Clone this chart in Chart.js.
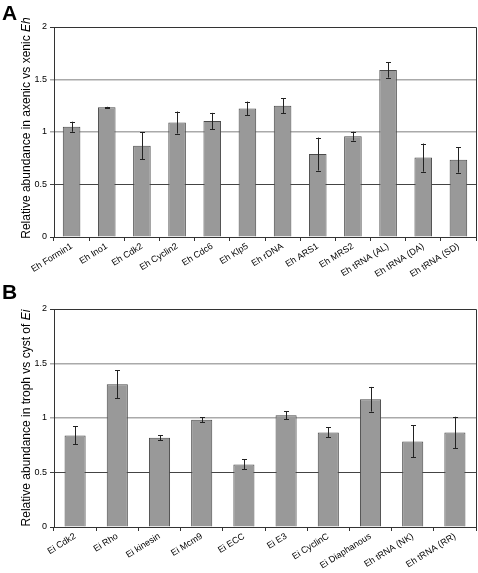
<!DOCTYPE html>
<html><head><meta charset="utf-8">
<script src="https://cdn.jsdelivr.net/npm/chart.js@4/dist/chart.umd.min.js"></script>
<style>
html,body{margin:0;padding:0;background:#fff;width:478px;height:573px;overflow:hidden;font-family:"Liberation Sans",Arial,sans-serif;}
.wrap{position:absolute;left:0;width:478px;}
.lbl{position:absolute;font-weight:bold;font-size:21px;color:#000;}
.yt{position:absolute;font-size:12px;color:#000;white-space:nowrap;transform:translate(-50%,-50%) rotate(-90deg);}
</style></head><body>
<div class="wrap" style="top:0;height:285px"><canvas id="ca"></canvas></div>
<div class="wrap" style="top:282px;height:291px"><canvas id="cb"></canvas></div>
<div class="lbl" style="left:2px;top:1px">A</div>
<div class="lbl" style="left:2px;top:280px">B</div>
<div class="yt" style="left:26px;top:128px">Relative abundance in axenic vs xenic <i>Eh</i></div>
<div class="yt" style="left:26px;top:418px">Relative abundance in troph vs cyst of <i>Ei</i></div>
<script>
const categoriesA = ["Eh Formin1","Eh Ino1","Eh Cdk2","Eh Cyclin2","Eh Cdc6","Eh Klp5","Eh rDNA","Eh ARS1","Eh MRS2","Eh tRNA (AL)","Eh tRNA (DA)","Eh tRNA (SD)"];
const valuesA = [1.05,1.235,0.87,1.09,1.105,1.225,1.25,0.79,0.96,1.59,0.756,0.735];
const errorsA = [0.048,0.005,0.128,0.105,0.077,0.065,0.07,0.157,0.042,0.072,0.134,0.122];

const categoriesB = ["Ei Cdk2","Ei Rho","Ei kinesin","Ei Mcm9","Ei ECC","Ei E3","Ei CyclinC","Ei Diaphanous","Eh tRNA (NK)","Eh tRNA (RR)"];
const valuesB = [0.84,1.31,0.819,0.985,0.574,1.025,0.868,1.172,0.785,0.868];
const errorsB = [0.083,0.13,0.021,0.022,0.046,0.036,0.045,0.113,0.147,0.143];

const yTicks = [0,0.5,1,1.5,2];
const yTickLabels = ["0","0.5","1","1.5","2"];

const errPlugin = {
  id:'err',
  afterDatasetsDraw(chart){
    const ctx=chart.ctx, ys=chart.scales.y, meta=chart.getDatasetMeta(0);
    const errs=chart.options.plugins.err.errors, vals=chart.data.datasets[0].data;
    ctx.save(); ctx.strokeStyle='#222'; ctx.lineWidth=1;
    meta.data.forEach((bar,i)=>{
      const x=Math.round(bar.x)+0.5;
      const yh=ys.getPixelForValue(vals[i]+errs[i]), yl=ys.getPixelForValue(vals[i]-errs[i]);
      ctx.beginPath();
      ctx.moveTo(x,yh);ctx.lineTo(x,yl);
      ctx.moveTo(x-2.5,Math.round(yh)+0.5);ctx.lineTo(x+2.5,Math.round(yh)+0.5);
      ctx.moveTo(x-2.5,Math.round(yl)+0.5);ctx.lineTo(x+2.5,Math.round(yl)+0.5);
      ctx.stroke();
    });
    ctx.restore();
  }
};
const borderPlugin = {
  id:'pborder',
  afterDraw(chart){
    const a=chart.chartArea, ctx=chart.ctx;
    ctx.save(); ctx.strokeStyle='#333'; ctx.lineWidth=1;
    ctx.beginPath();
    ctx.moveTo(Math.round(a.left)+0.5,Math.round(a.top)+0.5);
    ctx.lineTo(Math.round(a.right)+0.5,Math.round(a.top)+0.5);
    ctx.lineTo(Math.round(a.right)+0.5,Math.round(a.bottom)+0.5);
    ctx.stroke(); ctx.restore();
  }
};

function make(id, cats, vals, errs, topPad, xh){
  const font={family:'"Liberation Sans", Arial, sans-serif', size:9};
  return new Chart(document.getElementById(id),{
    type:'bar',
    data:{labels:cats,datasets:[{data:vals,backgroundColor:'#999999',borderColor:'#4a4a4a',borderWidth:1,categoryPercentage:1,barPercentage:0.5}]},
    options:{
      responsive:true, maintainAspectRatio:false, animation:false,
      layout:{padding:{top:topPad,right:2,left:0,bottom:0}},
      plugins:{legend:{display:false},tooltip:{enabled:false},err:{errors:errs}},
      scales:{
        x:{
          grid:{offset:true,drawOnChartArea:false,drawTicks:true,tickLength:4,color:'#333'},
          border:{color:'#333'},
          ticks:{font,color:'#000',minRotation:32,maxRotation:32,autoSkip:false,padding:0},
          afterFit(s){s.height=xh;}
        },
        y:{
          min:0,max:2,
          afterBuildTicks(s){s.ticks=yTicks.map(v=>({value:v}));},
          grid:{tickLength:4,color:c=>{const v=c.tick&&c.tick.value; if(v===0.5)return '#444'; if(v===0||v===2)return '#333'; return '#aaaaaa';},
                lineWidth:c=>{const v=c.tick&&c.tick.value; return (v===1||v===1.5)?1.5:1;}},
          border:{color:'#333'},
          ticks:{font,color:'#000',padding:3,callback:(v)=>yTickLabels[yTicks.indexOf(v)]},
          afterFit(s){s.width=54;}
        }
      }
    },
    plugins:[errPlugin,borderPlugin]
  });
}
make('ca',categoriesA,valuesA,errorsA,27,48);
make('cb',categoriesB,valuesB,errorsB,27,46);
</script>
</body></html>
